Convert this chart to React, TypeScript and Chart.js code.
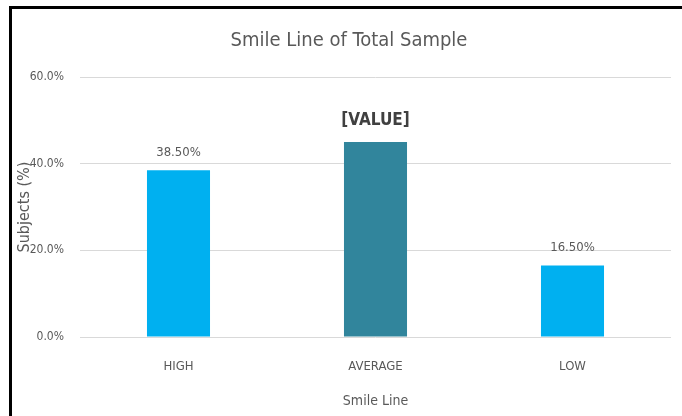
import React, { useEffect, useRef } from "react";
import { Chart, registerables } from "chart.js";

Chart.register(...registerables);

const categories = ["HIGH", "AVERAGE", "LOW"];
const values = [38.5, 45.0, 16.5];
const barLabels = ["38.50%", "[VALUE]", "16.50%"];
const barColors = ["#00B0F0", "#31859C", "#00B0F0"];
const yTicks = [0, 20, 40, 60];
const chartTitle = "Smile Line of Total Sample";

const FONT = "'Liberation Sans Narrow', 'DejaVu Sans Condensed', sans-serif";

const labelPlugin = {
  id: "barLabels",
  afterDatasetsDraw(chart: any) {
    const ctx = chart.ctx;
    const meta = chart.getDatasetMeta(0);
    ctx.save();
    ctx.textAlign = "center";
    ctx.textBaseline = "middle";
    meta.data.forEach((bar: any, i: number) => {
      const text = barLabels[i];
      const isPlaceholder = text.startsWith("[");
      ctx.fillStyle = isPlaceholder ? "#404040" : "#595959";
      ctx.font = isPlaceholder ? `bold 17px ${FONT}` : `13px ${FONT}`;
      ctx.fillText(text, bar.x, bar.y - (isPlaceholder ? 21 : 18));
    });
    ctx.restore();
  },
};

const titlePlugin = {
  id: "customTitle",
  afterDraw(chart: any) {
    const ctx = chart.ctx;
    ctx.save();
    ctx.textAlign = "center";
    ctx.textBaseline = "middle";
    ctx.fillStyle = "#595959";
    ctx.font = `20px ${FONT}`;
    ctx.fillText(chartTitle, chart.width / 2 + 8, 41);
    ctx.restore();
  },
};

export default function App() {
  const ref = useRef<HTMLCanvasElement>(null);
  useEffect(() => {
    document.body.style.margin = "0";
    const chart = new Chart(ref.current!, {
      type: "bar",
      data: {
        labels: categories,
        datasets: [
          {
            data: values,
            backgroundColor: barColors,
            barPercentage: 0.32,
            categoryPercentage: 1,
          },
        ],
      },
      options: {
        animation: false,
        responsive: false,
        layout: { padding: { left: 0, right: 11, top: 77, bottom: 0 } },
        plugins: {
          legend: { display: false },
          tooltip: { enabled: false },
          title: { display: false },
        },
        scales: {
          x: {
            grid: { display: false },
            border: { display: false },
            ticks: {
              color: "#595959",
              font: { family: FONT, size: 13 },
              padding: 14,
            },
            title: {
              display: true,
              text: "Smile Line",
              color: "#595959",
              font: { family: FONT, size: 14 },
              padding: { top: 0, bottom: 6 },
            },
            afterFit(scale: any) {
              scale.height = 79;
            },
          },
          y: {
            min: 0,
            max: 60,
            afterBuildTicks(scale: any) {
              scale.ticks = yTicks.map((v) => ({ value: v }));
            },
            grid: { color: "#D9D9D9", drawTicks: false, lineWidth: 1 },
            border: { display: false },
            ticks: {
              color: "#595959",
              font: { family: FONT, size: 12 },
              padding: 16,
              callback: (v: any) => Number(v).toFixed(1) + "%",
            },
            title: {
              display: true,
              text: "Subjects (%)",
              color: "#595959",
              font: { family: FONT, size: 16 },
              padding: { top: 15, bottom: 0 },
            },
            afterFit(scale: any) {
              scale.width = 80;
            },
          },
        },
      },
      plugins: [labelPlugin, titlePlugin],
    });
    return () => chart.destroy();
  }, []);
  return (
    <div style={{ position: "relative", width: 682, height: 416, background: "#fff" }}>
      <div
        style={{
          position: "absolute",
          left: 9,
          top: 6,
          right: 0,
          bottom: 0,
          borderTop: "3px solid #000",
          borderLeft: "3px solid #000",
        }}
      />
      <canvas
        ref={ref}
        width={682}
        height={416}
        style={{ position: "absolute", left: 0, top: 0, width: 682, height: 416 }}
      />
    </div>
  );
}
